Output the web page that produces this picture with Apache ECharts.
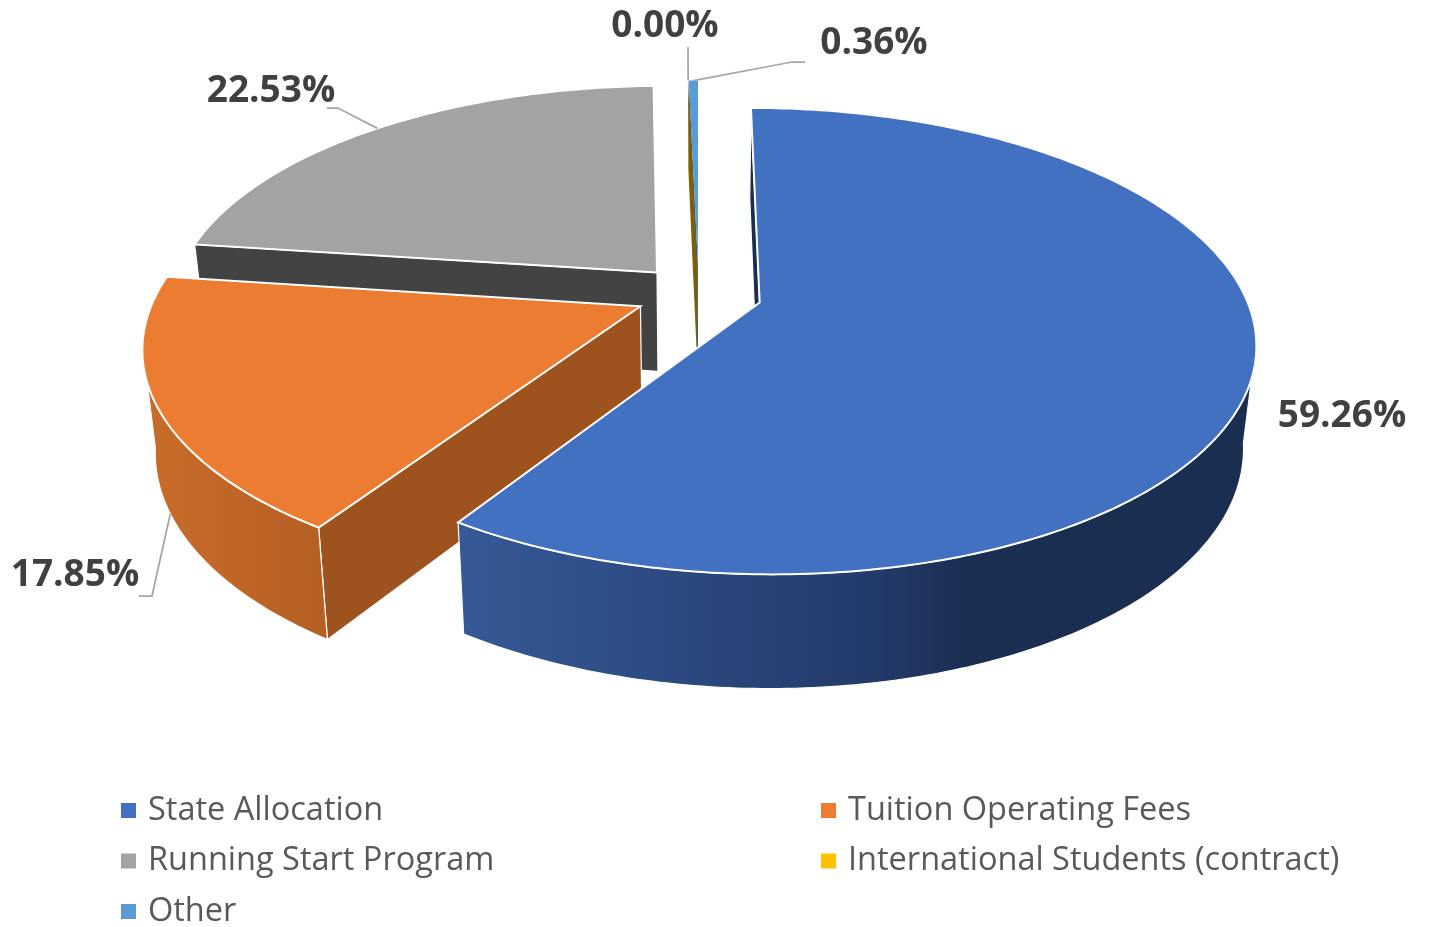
<!DOCTYPE html>
<html>
<head>
<meta charset="utf-8">
<title>Revenue by source</title>
<script src="https://cdn.jsdelivr.net/npm/echarts@6/dist/echarts.min.js"></script>
<style>
  html, body { margin: 0; padding: 0; background: #fff; }
  #chartContainer { width: 1429px; height: 927px; }
</style>
</head>
<body>
<div id="chartContainer"></div>
<script>
const categories = ['State Allocation', 'Tuition Operating Fees', 'Running Start Program', 'International Students (contract)', 'Other'];
const shares = [59.26, 17.85, 22.53, 0.00, 0.36];
const topColors = ['#4371C1', '#EB7C31', '#A3A3A3', '#FFC000', '#5B9BD5'];
const faceColors = ['#1B2E50', '#9E521D', '#434343', '#7F6000', '#2E5A80'];
// left and right end of the outer wall shading
const wallStops = [
  [[0, '#355A96'], [0.52, '#233A6B'], [0.64, '#1A2E52'], [1, '#1A2E52']],
  [[0, '#C96C2A'], [1, '#B55F24']],
  null, null, null
];
// gray first, blue last: back to front
const drawOrder = [2, 4, 3, 1, 0];

// perspective of the pie, radius = 1 in plane units
const vx = 698.6, vy = 294, radiusX = 485, radiusY = 224;
const persp = 0.165, explode = 0.1306, depth = 100, shrink = 0.977;

// label centre, elbow points of the leader (the end is found on the slice), leader goes to the lower rim or not
const labelAt = [[1342, 416], [75, 575], [271, 91], [665, 26], [874, 43]];
const leaders = [null, [[139, 596], [152, 596]], [[327, 108], [338, 108]], [[688, 47]], [[805, 62], [792, 62]]];
const leaderLow = [false, true, false, false, false];

const total = shares.reduce((a, b) => a + b, 0);
let run = 0;
const slices = shares.map(v => {
  const start = run / total * 2 * Math.PI;
  run += v;
  const end = run / total * 2 * Math.PI;
  const mid = (start + end) / 2;
  return { start, end, mid, ox: explode * Math.sin(mid), oz: explode * Math.cos(mid) };
});

// plane point -> screen, low = bottom of the slab
function project(x, z, low) {
  const s = 1 / (1 + persp * z);
  const px = radiusX * x * s, py = -radiusY * z * s;
  if (!low) return [vx + px, vy + py];
  return [vx + px * shrink, vy + py * shrink + depth * s];
}
function rim(sl, a, low) {
  return project(sl.ox + Math.sin(a), sl.oz + Math.cos(a), low);
}
function arcPoints(sl, a, b, low) {
  const n = Math.max(2, Math.ceil(Math.abs(b - a) / 0.015));
  const pts = [];
  for (let i = 0; i <= n; i++) pts.push(rim(sl, a + (b - a) * i / n, low));
  return pts;
}
// is the cut face at angle a turned to the camera, side -1 start, 1 end
function faceVisible(sl, a, side) {
  const nx = side * Math.cos(a), nz = -side * Math.sin(a);
  return nx * (0 - sl.ox) + nz * (-1 / persp - sl.oz) > 0;
}

function renderSlice(i) {
  const sl = slices[i];
  const kids = [];
  const apexTop = project(sl.ox, sl.oz, false), apexLow = project(sl.ox, sl.oz, true);
  const sideStroke = shares[i] > 1 ? { stroke: '#fff', lineWidth: 1.2 } : {};

  [[sl.start, -1], [sl.end, 1]].forEach(f => {
    if (!faceVisible(sl, f[0], f[1])) return;
    kids.push({
      type: 'polygon',
      shape: { points: [apexTop, rim(sl, f[0], false), rim(sl, f[0], true), apexLow] },
      style: Object.assign({ fill: faceColors[i] }, sideStroke)
    });
  });

  // only the part of the wall that faces the camera (cos < -persp, roughly)
  const turn = Math.acos(-persp);
  const a = Math.max(sl.start, turn), b = Math.min(sl.end, 2 * Math.PI - turn);
  if (wallStops[i] && b > a) {
    const stops = wallStops[i].map(s => ({ offset: s[0], color: s[1] }));
    kids.push({
      type: 'polygon',
      shape: { points: arcPoints(sl, a, b, false).concat(arcPoints(sl, b, a, true)) },
      style: Object.assign({ fill: new echarts.graphic.LinearGradient(0, 0, 1, 0, stops) }, sideStroke)
    });
  }

  if (sl.end > sl.start) {
    kids.push({
      type: 'polygon',
      shape: { points: [apexTop].concat(arcPoints(sl, sl.start, sl.end, false)) },
      style: shares[i] > 1 ? { fill: topColors[i], stroke: '#fff', lineWidth: 2 } : { fill: topColors[i] }
    });
  }
  return { type: 'group', children: kids };
}

function renderLabel(i) {
  const sl = slices[i];
  const kids = [];
  if (leaders[i]) {
    kids.push({
      type: 'polyline',
      shape: { points: leaders[i].concat([rim(sl, sl.mid, leaderLow[i])]) },
      style: { stroke: '#A6A6A6', lineWidth: 1.75, fill: null }
    });
  }
  kids.push({
    type: 'text',
    style: {
      text: shares[i].toFixed(2) + '%',
      x: labelAt[i][0], y: labelAt[i][1],
      align: 'center', verticalAlign: 'middle',
      font: 'bold 37px "Open Sans"', fill: '#404040'
    }
  });
  return { type: 'group', children: kids };
}

const sliceSeries = drawOrder.map((i, pos) => ({
  type: 'custom',
  name: categories[i],
  coordinateSystem: 'none',
  silent: true,
  z: 2 + pos,
  itemStyle: { color: topColors[i] },
  data: [[shares[i]]],
  renderItem: () => renderSlice(i)
}));
const labelSeries = {
  type: 'custom',
  name: 'labels',
  coordinateSystem: 'none',
  silent: true,
  z: 20,
  data: shares.map(v => [v]),
  renderItem: params => renderLabel(params.dataIndex)
};

const legendText = { fontFamily: 'Open Sans', fontSize: 32.5, color: '#595959', padding: [0, 0, 0, 7] };
function legendColumn(left, names) {
  return {
    orient: 'vertical', left: left, top: 794, height: 160, padding: 0,
    itemWidth: 15, itemHeight: 15, itemGap: 17.5,
    icon: 'rect', selectedMode: false,
    textStyle: legendText,
    data: names
  };
}

const chart = echarts.init(document.getElementById('chartContainer'));
chart.setOption({
  animation: false,
  backgroundColor: '#fff',
  legend: [
    legendColumn(121, [categories[0], categories[2], categories[4]]),
    legendColumn(821, [categories[1], categories[3]])
  ],
  series: sliceSeries.concat([labelSeries])
});
</script>
</body>
</html>
